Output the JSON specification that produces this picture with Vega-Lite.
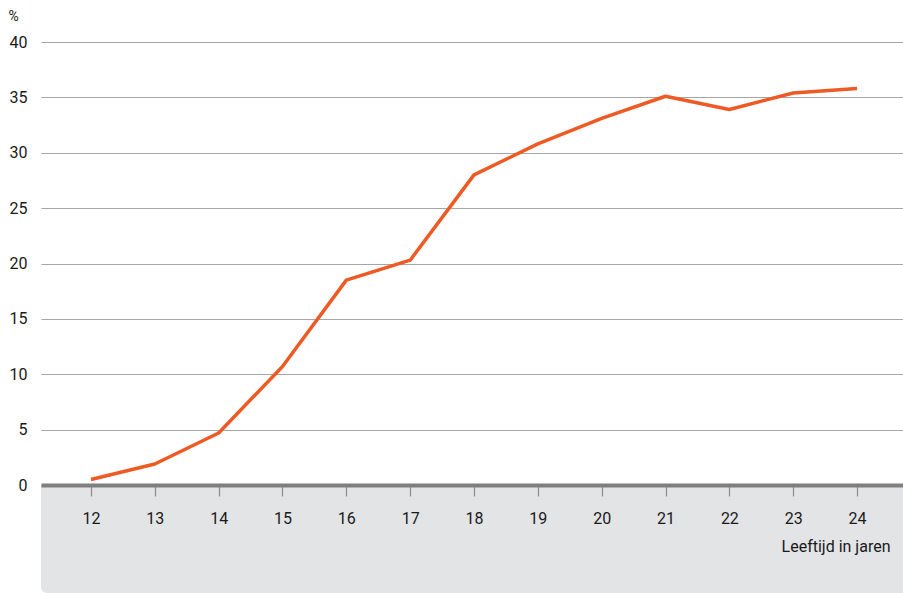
{
  "$schema": "https://vega.github.io/schema/vega-lite/v6.json",
  "width": 862,
  "height": 551,
  "autosize": {"type": "none"},
  "padding": {"left": 41, "top": 42, "right": 0, "bottom": 0},
  "background": "white",
  "config": {"view": {"stroke": null}, "font": "Roboto"},
  "datasets": {
    "band": [{"x0": 11.217, "x1": 24.72, "y0": -9.75, "y1": 0}],
    "series": [
      {"leeftijd": 12, "pct": 0.5},
      {"leeftijd": 13, "pct": 1.9},
      {"leeftijd": 14, "pct": 4.7},
      {"leeftijd": 15, "pct": 10.7},
      {"leeftijd": 16, "pct": 18.5},
      {"leeftijd": 17, "pct": 20.3},
      {"leeftijd": 18, "pct": 28.0},
      {"leeftijd": 19, "pct": 30.8},
      {"leeftijd": 20, "pct": 33.1},
      {"leeftijd": 21, "pct": 35.1},
      {"leeftijd": 22, "pct": 33.9},
      {"leeftijd": 23, "pct": 35.4},
      {"leeftijd": 24, "pct": 35.8}
    ]
  },
  "layer": [
    {
      "data": {"name": "band"},
      "mark": {"type": "rect", "color": "#e3e4e6", "cornerRadiusBottomLeft": 6},
      "encoding": {
        "x": {"field": "x0", "type": "quantitative", "scale": {"domain": [11.217, 24.72], "nice": false, "zero": false},
          "axis": {
            "orient": "bottom", "offset": -108, "zindex": 1, "format": "d",
            "values": [12,13,14,15,16,17,18,19,20,21,22,23,24],
            "domainColor": "#7f7f7f", "domainWidth": 4,
            "tickColor": "#8a8a8a", "tickWidth": 1.2, "tickSize": 11,
            "labelFontSize": 16, "labelColor": "#1a1a1a", "labelPadding": 14, "labelFont": "Roboto",
            "grid": false,
            "title": "Leeftijd in jaren", "titleFontSize": 16, "titleFontWeight": "normal", "titleColor": "#1a1a1a",
            "titleAlign": "right", "titleAnchor": null, "titleX": 849, "titleY": 66, "titleBaseline": "alphabetic", "titleFont": "Roboto"
          }},
        "x2": {"field": "x1"},
        "y": {"field": "y0", "type": "quantitative", "scale": {"domain": [-9.75, 40], "nice": false, "zero": false},
          "axis": {
            "values": [0,5,10,15,20,25,30,35,40], "format": "d",
            "grid": true, "gridColor": "#a6a6a6", "gridWidth": 1,
            "domain": false, "ticks": false,
            "labelFontSize": 16, "labelColor": "#1a1a1a", "labelPadding": 14, "labelFont": "Roboto",
            "title": "%", "titleAngle": 0, "titleFontSize": 14, "titleFontWeight": "normal", "titleColor": "#1a1a1a",
            "titleAlign": "left", "titleAnchor": null, "titleX": -33, "titleY": -22, "titleBaseline": "alphabetic", "titleFont": "Roboto"
          }},
        "y2": {"field": "y1"}
      }
    },
    {
      "data": {"name": "series"},
      "mark": {"type": "line", "color": "#ee5a24", "strokeWidth": 3.5, "strokeJoin": "round", "strokeCap": "butt"},
      "encoding": {
        "x": {"field": "leeftijd", "type": "quantitative"},
        "y": {"field": "pct", "type": "quantitative"}
      }
    }
  ]
}
